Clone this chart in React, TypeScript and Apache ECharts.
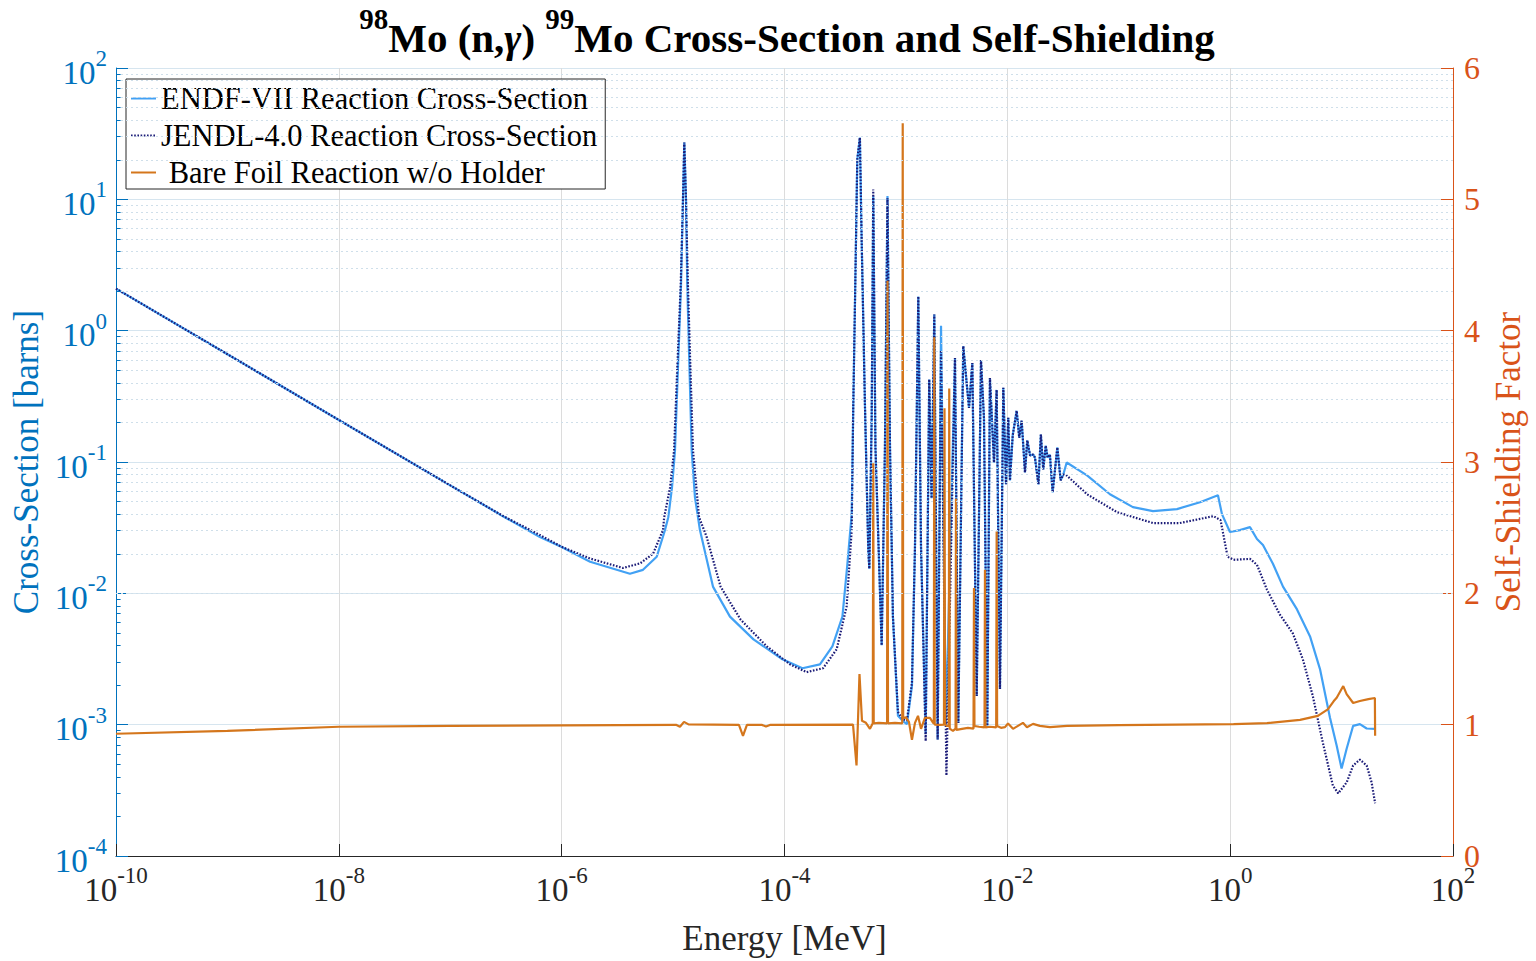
import React, { useEffect, useRef } from "react";
import * as echarts from "echarts";

// ENDF-VII cross-section [Energy MeV, barns]
const endfData: [number, number][] = [
  [1e-10, 2.09], [1e-9, 0.662], [1e-8, 0.209], [1e-7, 0.0664], [3e-7, 0.0385], [6.38e-7, 0.0268],
  [1e-6, 0.0225], [1.8e-6, 0.0174], [4.1e-6, 0.0141], [5.37e-6, 0.0151], [7.13e-6, 0.019],
  [8.45e-6, 0.0303], [9.06e-6, 0.038], [9.78e-6, 0.0641], [1.04e-5, 0.122], [1.106e-5, 0.519],
  [1.178e-5, 2.2], [1.227e-5, 10.0], [1.261e-5, 27.1], [1.306e-5, 10.0], [1.341e-5, 2.2],
  [1.403e-5, 0.519], [1.469e-5, 0.122], [1.572e-5, 0.0538], [1.742e-5, 0.0303], [2.28e-5, 0.01125],
  [3.24e-5, 0.00665], [5.27e-5, 0.00446], [9.58e-5, 0.00315], [1.449e-4, 0.00269], [2.08e-4, 0.00288],
  [2.69e-4, 0.00395], [3.31e-4, 0.00665], [3.67e-4, 0.0168], [4.01e-4, 0.0401], [4.14e-4, 0.258],
  [4.38e-4, 4.74], [4.5e-4, 20.1], [4.75e-4, 29.5], [4.93e-4, 4.74], [5.28e-4, 0.258],
  [5.65e-4, 0.0214], [5.77e-4, 0.0154], [6.06e-4, 0.217], [6.26e-4, 10.5], [6.55e-4, 0.129],
  [7.45e-4, 0.00402], [7.97e-4, 0.129], [8.4e-4, 10.6], [8.85e-4, 0.129], [9.4e-4, 0.00665],
  [1.043e-3, 0.00117], [1.15e-3, 0.00107], [1.256e-3, 0.00101], [1.393e-3, 0.00197], [1.483e-3, 0.0226],
  [1.588e-3, 1.82], [1.68e-3, 0.0226], [1.85e-3, 0.00085], [1.99e-3, 0.425], [2.09e-3, 0.053],
  [2.21e-3, 1.33], [2.37e-3, 0.00077], [2.54e-3, 1.09], [2.81e-3, 0.00098], [3.39e-3, 0.618],
  [3.63e-3, 0.00103], [4.02e-3, 0.762], [4.53e-3, 0.258], [4.85e-3, 0.566], [5.31e-3, 0.00165],
  [5.8e-3, 0.597], [6.17e-3, 0.217], [6.61e-3, 0.00098], [6.98e-3, 0.436], [7.59e-3, 0.0991],
  [8.02e-3, 0.354], [8.59e-3, 0.00187], [9.2e-3, 0.367], [9.73e-3, 0.0676], [1.019e-2, 0.217],
  [1.056e-2, 0.0724], [1.117e-2, 0.159], [1.213e-2, 0.2455], [1.279e-2, 0.153], [1.345e-2, 0.206],
  [1.44e-2, 0.0834], [1.51e-2, 0.146], [1.6e-2, 0.112], [1.71e-2, 0.114], [1.77e-2, 0.108],
  [1.9e-2, 0.0676], [2.0e-2, 0.1615], [2.1e-2, 0.0877], [2.21e-2, 0.133], [2.3e-2, 0.108],
  [2.41e-2, 0.114], [2.55e-2, 0.0587], [2.81e-2, 0.129], [3.01e-2, 0.0724], [3.18e-2, 0.0804],
  [3.41e-2, 0.0991], [5.19e-2, 0.079], [8.34e-2, 0.0568], [0.134, 0.0453], [0.203, 0.0423],
  [0.333, 0.0438], [0.536, 0.0494], [0.777, 0.0558], [0.844, 0.0401], [0.996, 0.0293],
  [1.224, 0.0303], [1.506, 0.0319], [1.74, 0.0259], [1.97, 0.0233], [2.42, 0.0168],
  [2.98, 0.01125], [3.98, 0.00754], [5.21, 0.0047], [6.4, 0.00265], [7.87, 0.00113],
  [9.04, 0.000692], [10.0, 0.000463], [11.1, 0.000656], [12.7, 0.00098], [14.6, 0.00101],
  [16.8, 0.000935], [20.0, 0.00093],
];

// JENDL-4.0 cross-section [Energy MeV, barns]
const jendlData: [number, number][] = [
  [1e-10, 2.09], [1e-9, 0.662], [1e-8, 0.209], [1e-7, 0.0664], [3e-7, 0.0387], [6.38e-7, 0.0278],
  [1e-6, 0.0226], [1.8e-6, 0.0184], [3.55e-6, 0.0156], [5.05e-6, 0.0169], [6.61e-6, 0.02],
  [8.12e-6, 0.0303], [8.32e-6, 0.038], [9.4e-6, 0.064], [1.02e-5, 0.122], [1.09e-5, 0.519],
  [1.17e-5, 2.2], [1.227e-5, 10.0], [1.261e-5, 27.1], [1.306e-5, 10.0], [1.36e-5, 2.2],
  [1.43e-5, 0.519], [1.51e-5, 0.122], [1.71e-5, 0.038], [2.0e-5, 0.0269], [2.67e-5, 0.01125],
  [4.03e-5, 0.00632], [6.92e-5, 0.00395], [1.12e-4, 0.00288], [1.58e-4, 0.00251], [2.22e-4, 0.00269],
  [2.94e-4, 0.00375], [3.61e-4, 0.00793], [4.01e-4, 0.0303], [4.14e-4, 0.258], [4.38e-4, 4.74],
  [4.5e-4, 20.1], [4.75e-4, 29.5], [4.93e-4, 4.74], [5.28e-4, 0.258], [5.65e-4, 0.0214],
  [5.77e-4, 0.0154], [6.06e-4, 0.217], [6.26e-4, 11.9], [6.55e-4, 0.129], [7.45e-4, 0.00402],
  [7.97e-4, 0.129], [8.4e-4, 10.2], [8.85e-4, 0.129], [9.4e-4, 0.00665], [1.043e-3, 0.00125],
  [1.15e-3, 0.0011], [1.256e-3, 0.00108], [1.393e-3, 0.0021], [1.483e-3, 0.0226], [1.588e-3, 1.82],
  [1.68e-3, 0.0226], [1.85e-3, 0.00075], [1.99e-3, 0.425], [2.09e-3, 0.053], [2.21e-3, 1.33],
  [2.37e-3, 0.00077], [2.54e-3, 0.71], [2.84e-3, 0.00041], [3.39e-3, 0.618], [3.63e-3, 0.00103],
  [4.02e-3, 0.762], [4.53e-3, 0.258], [4.85e-3, 0.566], [5.31e-3, 0.00165], [5.8e-3, 0.597],
  [6.17e-3, 0.217], [6.61e-3, 0.00098], [6.98e-3, 0.436], [7.59e-3, 0.0991], [8.02e-3, 0.354],
  [8.59e-3, 0.00187], [9.2e-3, 0.367], [9.73e-3, 0.0676], [1.019e-2, 0.217], [1.056e-2, 0.0724],
  [1.117e-2, 0.159], [1.213e-2, 0.2455], [1.279e-2, 0.153], [1.345e-2, 0.206], [1.44e-2, 0.0834],
  [1.51e-2, 0.146], [1.6e-2, 0.112], [1.71e-2, 0.114], [1.77e-2, 0.108], [1.9e-2, 0.0676],
  [2.0e-2, 0.1615], [2.1e-2, 0.0877], [2.21e-2, 0.133], [2.3e-2, 0.108], [2.41e-2, 0.114],
  [2.55e-2, 0.0587], [2.81e-2, 0.129], [3.01e-2, 0.0724], [3.18e-2, 0.0804], [3.41e-2, 0.079],
  [5.19e-2, 0.0568], [9.64e-2, 0.0415], [0.203, 0.0343], [0.354, 0.0343], [0.709, 0.0387],
  [0.82, 0.0361], [0.948, 0.019], [1.073, 0.018], [1.506, 0.0183], [1.74, 0.0165],
  [2.14, 0.01066], [2.79, 0.0069], [3.65, 0.00496], [4.49, 0.00315], [5.52, 0.00165],
  [6.79, 0.000729], [8.35, 0.000344], [9.33, 0.0003], [11.1, 0.000363], [12.7, 0.000489],
  [14.6, 0.000542], [16.8, 0.000489], [18.6, 0.000363], [20.0, 0.000252],
];

// Self-shielding factor (bare foil, w/o holder) [Energy MeV, factor]
const bareFoilData: [number, number][] = [
  [1e-10, 0.931], [1e-9, 0.953], [1e-8, 0.984], [1e-7, 0.991], [1e-6, 0.995], [1.062e-5, 0.999],
  [1.153e-5, 0.984], [1.253e-5, 1.021], [1.376e-5, 1.002], [3.9e-5, 0.999], [4.24e-5, 0.915],
  [4.6e-5, 0.999], [6.3e-5, 0.998], [6.82e-5, 0.986], [7.4e-5, 0.998], [4.12e-4, 1.0],
  [4.43e-4, 0.689], [4.71e-4, 1.385], [4.96e-4, 1.029], [5.38e-4, 1.014], [5.85e-4, 0.968],
  [6.2e-4, 1.01], [6.26e-4, 2.99], [6.32e-4, 1.01], [7.03e-4, 1.014], [8.33e-4, 1.01],
  [8.41e-4, 4.38], [8.49e-4, 1.01], [9.81e-4, 1.014], [1.14e-3, 1.01], [1.151e-3, 5.58],
  [1.162e-3, 1.05], [1.23e-3, 1.055], [1.309e-3, 1.021], [1.393e-3, 0.885], [1.483e-3, 1.014],
  [1.578e-3, 1.067], [1.68e-3, 0.968], [1.82e-3, 1.052], [2.02e-3, 1.052], [2.16e-3, 1.014],
  [2.19e-3, 1.01], [2.21e-3, 3.95], [2.23e-3, 1.0], [2.48e-3, 0.999], [2.7e-3, 1.0],
  [2.73e-3, 3.41], [2.76e-3, 1.0], [2.87e-3, 0.991], [2.98e-3, 0.99], [3.01e-3, 3.56],
  [3.04e-3, 0.97], [3.25e-3, 0.953], [3.43e-3, 0.97], [3.46e-3, 2.72], [3.49e-3, 0.96],
  [3.92e-3, 0.968], [4.43e-3, 0.976], [4.97e-3, 0.97], [5.02e-3, 2.04], [5.07e-3, 0.99],
  [5.57e-3, 0.984], [6.24e-3, 0.98], [6.3e-3, 2.18], [6.36e-3, 0.98], [6.98e-3, 0.984],
  [7.94e-3, 0.98], [8.02e-3, 2.47], [8.1e-3, 0.99], [8.77e-3, 0.976], [9.53e-3, 0.981],
  [1.014e-2, 1.009], [1.125e-2, 0.968], [1.246e-2, 0.991], [1.38e-2, 1.014], [1.5e-2, 0.981],
  [1.7e-2, 1.006], [1.96e-2, 0.991], [2.41e-2, 0.981], [3.43e-2, 0.991], [0.1, 0.996],
  [1.073, 1.004], [2.14, 1.012], [4.24, 1.037], [6.12, 1.067], [7.52, 1.117], [8.51, 1.18],
  [9.04, 1.205], [10.35, 1.294], [11.1, 1.233], [12.7, 1.165], [14.6, 1.18], [17.4, 1.195],
  [19.9, 1.203], [20.0, 0.915],
];

const seriesNames = [
  "ENDF-VII Reaction Cross-Section",
  "JENDL-4.0 Reaction Cross-Section",
  " Bare Foil Reaction w/o Holder",
];

const FONT = "'Liberation Serif', 'Times New Roman', serif";
const BLUE_AX = "#0072BD";
const ORANGE_AX = "#D95319";

export default function App() {
  const ref = useRef<HTMLDivElement>(null);

  useEffect(() => {
    if (!ref.current) return;
    const chart = echarts.init(ref.current, undefined, { renderer: "svg" });

    // minor log gridlines (2..9 x 10^d) and short minor ticks on the left axis
    const minorGrid: { yAxis: number }[] = [];
    const minorTicks: any[] = [];
    for (let d = -4; d <= 1; d++) {
      for (let k = 2; k <= 9; k++) {
        const v = k * Math.pow(10, d);
        minorGrid.push({ yAxis: v });
        minorTicks.push([{ coord: [1e-10, v] }, { coord: [1.1e-10, v] }]);
      }
    }

    const powLabel = (color: string, base: number, sup: number) => ({
      formatter: (v: number) => {
        const e = Math.round(Math.log10(v));
        return `{b|10}{s|${e}}`;
      },
      rich: {
        b: { fontSize: base, fontFamily: FONT, color, lineHeight: 42, verticalAlign: "bottom" },
        s: { fontSize: sup, fontFamily: FONT, color, lineHeight: 24, verticalAlign: "top" },
      },
    });

    const option: any = {
      animation: false,
      backgroundColor: "#fff",
      title: {
        text: "{s|98}{m|Mo (n,}{g|γ}{m|) }{s|99}{m|Mo Cross-Section and Self-Shielding}",
        left: 782,
        top: -1,
        textAlign: "center",
        textStyle: {
          rich: {
            m: { fontSize: 41, fontWeight: "bold", fontFamily: FONT, color: "#000", lineHeight: 54, verticalAlign: "bottom" },
            g: { fontSize: 41, fontStyle: "italic", fontFamily: FONT, color: "#000", lineHeight: 54, verticalAlign: "bottom" },
            s: { fontSize: 29, fontWeight: "bold", fontFamily: FONT, color: "#000", lineHeight: 30, verticalAlign: "top" },
          },
        },
      },
      legend: {
        data: seriesNames,
        orient: "vertical",
        left: 126,
        top: 79,
        padding: [4, 8, 1, 4],
        itemGap: 6,
        itemWidth: 25,
        itemHeight: 12,
        backgroundColor: "#fff",
        borderColor: "#262626",
        borderWidth: 1,
        borderRadius: 0,
        itemStyle: { opacity: 0 },
        textStyle: { fontFamily: FONT, fontSize: 30.5, color: "#000", lineHeight: 30 },
      },
      grid: { left: 116, right: 83, top: 68, bottom: 100, containLabel: false },
      xAxis: {
        type: "log",
        logBase: 10,
        min: 1e-10,
        max: 100,
        interval: 2,
        name: "Energy [MeV]",
        nameLocation: "middle",
        nameGap: 65,
        nameTextStyle: { fontFamily: FONT, fontSize: 35, color: "#262626" },
        axisLine: { show: true, lineStyle: { color: "#262626", width: 1 } },
        axisTick: { show: true, inside: true, length: 12, lineStyle: { color: "#262626" } },
        axisLabel: { margin: 8, ...powLabel("#262626", 33, 23) },
        splitLine: { show: true, lineStyle: { color: "#DCDCDC", width: 1 } },
        minorTick: { show: false },
      },
      yAxis: [
        {
          type: "log",
          logBase: 10,
          min: 1e-4,
          max: 100,
          interval: 1,
          position: "left",
          name: "Cross-Section [barns]",
          nameLocation: "middle",
          nameGap: 70,
          nameTextStyle: { fontFamily: FONT, fontSize: 35, color: BLUE_AX },
          axisLine: { show: true, lineStyle: { color: BLUE_AX, width: 1 } },
          axisTick: { show: true, inside: true, length: 12, lineStyle: { color: BLUE_AX } },
          axisLabel: { margin: 9, ...powLabel(BLUE_AX, 33, 23) },
          splitLine: { show: true, lineStyle: { color: "#D6E5EF", width: 1 } },
        },
        {
          type: "value",
          min: 0,
          max: 6,
          interval: 1,
          position: "right",
          name: "Self-Shielding Factor",
          nameLocation: "middle",
          nameGap: 36,
          nameRotate: 90,
          nameTextStyle: { fontFamily: FONT, fontSize: 35, color: ORANGE_AX },
          axisLine: { show: true, lineStyle: { color: ORANGE_AX, width: 1 } },
          axisTick: { show: true, inside: true, length: 12, lineStyle: { color: ORANGE_AX } },
          axisLabel: { margin: 11, fontFamily: FONT, fontSize: 32, color: ORANGE_AX },
          splitLine: { show: false },
        },
      ],
      series: [
        {
          type: "line",
          data: [],
          yAxisIndex: 0,
          silent: true,
          z: 0,
          markLine: {
            silent: true,
            symbol: ["none", "none"],
            label: { show: false },
            lineStyle: { color: "#CFDFEA", type: [2, 3], width: 1 },
            data: minorGrid,
          },
        },
        {
          type: "line",
          data: [],
          yAxisIndex: 0,
          silent: true,
          z: 1,
          markLine: {
            silent: true,
            symbol: ["none", "none"],
            label: { show: false },
            lineStyle: { color: BLUE_AX, type: "solid", width: 1 },
            data: minorTicks,
          },
        },
        {
          name: seriesNames[0],
          type: "line",
          data: endfData,
          yAxisIndex: 0,
          symbol: "none",
          showSymbol: false,
          z: 2,
          lineStyle: { color: "#42A1F4", width: 2.2 },
          itemStyle: { color: "#42A1F4" },
        },
        {
          name: seriesNames[1],
          type: "line",
          data: jendlData,
          yAxisIndex: 0,
          symbol: "none",
          showSymbol: false,
          z: 3,
          lineStyle: { color: "#1C1C78", width: 2.2, type: [1.6, 1.6] },
          itemStyle: { color: "#1C1C78" },
        },
        {
          name: seriesNames[2],
          type: "line",
          data: bareFoilData,
          yAxisIndex: 1,
          symbol: "none",
          showSymbol: false,
          z: 4,
          lineStyle: { color: "#D4761C", width: 2.2 },
          itemStyle: { color: "#D4761C" },
        },
      ],
    };

    chart.setOption(option);
    return () => chart.dispose();
  }, []);

  return (
    <div
      ref={ref}
      style={{ position: "fixed", left: 0, top: 0, width: 1536, height: 961, background: "#fff" }}
    />
  );
}
